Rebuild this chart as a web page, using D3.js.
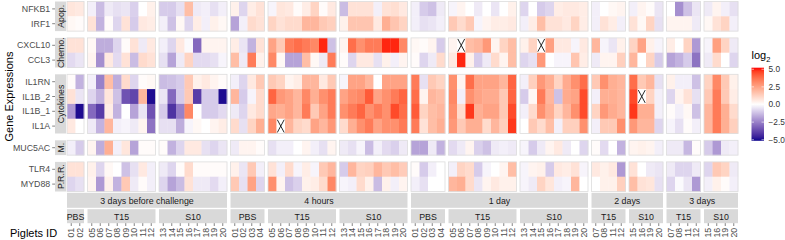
<!DOCTYPE html>
<html>
<head>
<meta charset="utf-8">
<script src="https://cdn.jsdelivr.net/npm/d3@7"></script>
<style>
body { margin: 0; background: #fff; }
svg { display: block; font-family: "Liberation Sans", Arial, sans-serif; }
</style>
</head>
<body>
<script>
// genes (rows) and their facet group
const genes = ["NFKB1", "IRF1", "CXCL10", "CCL3", "IL1RN", "IL1B_2", "IL1B_1", "IL1A", "MUC5AC", "TLR4", "MYD88"];
const geneGroups = ["Apop.", "Apop.", "Chemo.", "Chemo.", "Cytokines", "Cytokines", "Cytokines", "Cytokines", "M.", "P.R.R.", "P.R.R."];
const rowFacets = ["Apop.", "Chemo.", "Cytokines", "M.", "P.R.R."];

// time points and treatment groups
const times = ["3 days before challenge", "4 hours", "1 day", "2 days", "3 days"];
const treatmentsByTime = [["PBS", "T15", "S10"], ["PBS", "T15", "S10"], ["PBS", "T15", "S10"], ["T15", "S10"], ["T15", "S10"]];

// piglet ids per treatment, per time point
const idsBefore = [["01", "02"], ["05", "06", "07", "08", "09", "10", "11", "12"], ["13", "14", "15", "16", "17", "18", "19", "20"]];
const idsHours4 = [["01", "02", "03", "04"], ["05", "06", "07", "08", "09", "10", "11", "12"], ["13", "14", "15", "16", "17", "18", "19", "20"]];
const idsDay1 = [["01", "02", "03", "04"], ["05", "06", "07", "08", "09", "10", "11", "12"], ["13", "14", "15", "16", "17", "18", "19", "20"]];
const idsDays2 = [["07", "08", "11", "12"], ["15", "16", "19", "20"]];
const idsDays3 = [["07", "08", "11", "12"], ["15", "16", "19", "20"]];

// log2 values, one row per gene, columns in piglet order (null = missing, drawn with X)
const valBefore = [
  [0.7, 0.6, -0.3, -1.3, -0.4, -0.6, -0.5, -0.9, 0, 0.4, -1.0, -1.0, -0.6, 1.8, -0.4, -0.3, -0.6, -0.3],
  [0.2, 0.1, 0.8, -1.5, 0.1, -0.8, 0.8, -1.0, 0.6, 0.5, -0.3, -1.2, 0.2, -0.8, 0.5, -0.3, 0.4, 0.2],
  [0.8, 0.8, 0.2, -1.6, -1.6, -0.8, 0.1, 0.8, -0.4, 0.6, -0.3, -0.8, 0.6, -0.1, -3.0, 0.3, 0.3, 0.3],
  [-0.7, -0.5, 0.3, -2.2, 0.6, -0.7, 0.8, -1.3, 1.0, 0.8, -0.6, -1.8, -0.4, 1.2, -0.7, -0.7, -0.6, -0.2],
  [0.1, -1.5, -0.3, -2.5, 1.8, -1.6, 1.0, -0.8, 0.1, 0.2, -1.3, -1.2, -1.0, 1.5, 0.4, 0.6, 0.3, 0.1],
  [0.8, -0.5, -0.8, -1.5, 0.7, -1.2, -3.5, -3.8, 2.0, -5.0, -0.5, -3.0, -1.0, 1.5, -4.0, -1.0, -1.0, -5.0],
  [-2.0, -5.0, -3.0, -4.0, 0.5, -1.5, 0, -1.8, -0.5, -3.5, -1.0, -4.2, -2.5, 3.2, 0, -1.0, -1.0, -0.7],
  [0.6, 0, -0.4, -1.5, 2.0, -0.3, -0.2, -0.4, 0.3, -2.8, -0.6, -0.6, -1.6, -0.2, 0.2, 0, 0.3, 0.5],
  [-0.3, -1.0, 0.3, -1.6, 2.2, -0.3, 0.7, -1.8, 0.1, 0.1, 0.1, -1.5, -0.8, 0.6, 0.6, -0.6, -0.8, -0.5],
  [0.8, 0.8, 0.4, -0.8, 0.2, 0, -1.2, -0.6, 0.6, -0.3, -0.4, -0.8, 0.1, 1.0, 0.1, 0.1, 0.1, 0.1],
  [-0.8, -0.6, 0.3, -2.0, 0.4, -1.5, 1.5, -0.4, 0.1, -0.3, -0.8, -1.8, -1.3, 0.8, -0.4, -0.4, -0.7, -0.3]
];
const valHours4 = [
  [0.4, -0.8, 0.5, 0.8, -0.2, 0.7, 0.6, 0.1, 0.5, 1.2, 0.1, 0.6, -1.3, 0.8, 0.8, 0.8, -0.3, 0.8, 0.9, 0.6],
  [-1.8, -0.3, 1.0, 0.8, 1.2, 0.8, 1.0, 1.0, 2.0, 2.0, 1.5, 1.3, 0.4, 1.6, 1.6, 1.6, 0.6, 2.2, 1.6, 1.2],
  [0.5, -0.5, -1.5, 0.8, 2.5, 1.5, 3.5, 3.8, 3.5, 3.2, 5.0, -1.2, 0.3, 3.8, 3.0, 3.5, 3.5, 5.0, 5.0, 3.2],
  [1.8, -0.4, 3.5, 0.4, 3.2, 0.2, -1.8, -1.8, 1.8, 0.2, -0.4, 3.5, 0.1, -0.8, 0.6, 0.6, -0.6, 0.4, -0.3, 0.3],
  [-0.3, -0.8, 0.6, 1.5, 1.5, 1.2, 0.3, 0.5, 2.0, 2.0, 0.6, 1.5, -0.2, 2.5, 2.5, 2.0, 0, 2.5, 2.5, 2.5],
  [2.0, -1.0, -0.2, 1.0, 4.0, 2.8, 2.5, 2.0, 3.2, 2.2, 3.0, 3.5, 2.5, 3.0, 3.2, 4.2, 2.5, 3.0, 3.5, 4.0],
  [-0.4, -0.8, 0.6, 1.0, 2.4, 2.2, 2.5, 2.0, 3.5, 1.5, 2.5, 3.5, 3.0, 3.5, 4.0, 3.0, 3.5, 3.0, 4.5, 3.8],
  [1.0, -0.6, 1.2, 2.2, 3.2, null, 2.0, 1.2, 1.0, 2.5, 2.0, 2.8, 1.0, 2.2, 3.0, 3.5, 2.5, 3.0, 3.0, 3.5],
  [-0.4, 0.3, 0.3, 0.1, -0.6, -0.3, -0.3, 0, 0.3, -0.3, -0.6, 0.3, -0.4, -0.6, -0.2, -1.3, -0.3, -0.7, -0.9, -0.4],
  [0.4, -0.5, 1.5, -0.3, 0.8, -0.3, 1.0, -0.2, 0.5, -0.2, 1.5, 2.0, -1.0, 2.0, 1.2, 1.3, 2.0, 1.5, 1.8, 1.4],
  [1.5, -0.6, 2.5, -0.8, 3.0, 0.3, -1.2, -0.9, 0.4, 0.5, 1.0, 3.2, -0.2, -0.3, 1.0, 0.4, -1.3, 0.4, -0.3, 0.3]
];
const valDay1 = [
  [-0.3, -1.0, -1.2, -0.4, -0.2, 0.3, 0, -0.4, 0, -0.5, 0, 0.4, -0.8, 0, -1.0, -0.8, 0.5, 0.6, 0.6, 0.5],
  [-0.3, -0.6, -0.5, -0.3, 1.5, 1.0, 1.5, -0.2, 0.3, 0.5, 0.5, 0.6, -0.3, 0.5, 1.8, 0.8, 0.8, 0.6, 1.2, 0.5],
  [0.2, 0.1, 0.3, -1.0, 0.3, null, 1.8, 2.0, 2.8, 0.3, 1.2, 1.8, 0.4, 1.2, null, 2.6, 0.6, 0.6, -0.2, 0.6],
  [0.1, -0.8, -0.4, 1.0, 0.6, 5.0, 0.4, -1.0, -0.4, 1.0, 0.3, 1.8, -0.8, -0.6, 2.8, 0, -0.2, -0.2, 1.6, 0.5],
  [3.5, -0.6, 1.5, 1.2, 3.0, 0.3, 3.8, 2.5, 2.5, 2.5, 2.0, 4.0, -0.3, 1.3, 2.8, 2.2, 1.2, 2.3, 3.0, 3.8],
  [3.8, 0.3, 2.0, 1.8, 3.2, -0.3, 3.0, 2.5, 2.3, 2.3, 1.5, 4.0, -1.0, 0.2, 3.5, 2.0, -1.2, 2.3, 2.5, 4.5],
  [4.2, 1.2, 1.8, 2.0, 3.0, 1.0, 4.8, 2.2, 2.5, 2.5, 1.5, 4.5, -0.3, 1.0, 3.0, 2.2, 1.2, 2.0, 3.0, 4.5],
  [3.5, 0.8, 1.8, 2.2, 2.8, 1.5, 2.2, 2.2, 1.0, 2.0, 1.3, 4.8, 0, 1.5, 1.0, 1.8, -0.3, 1.3, 1.3, 3.0],
  [-1.8, -1.8, -0.4, -1.5, -0.7, -0.4, 0.3, -0.9, -1.2, -0.4, -0.3, -0.4, -0.2, -1.0, -0.4, 0.3, 0.6, -0.4, 0, -0.8],
  [0.1, -1.0, -0.3, 0, -0.3, 1.2, 1.0, -1.0, -0.2, 0, 0.3, 1.8, -0.2, 0.3, 0.4, -1.0, 0.6, 0.5, 0.8, -0.2],
  [-0.3, -0.6, 0, 0, 2.0, 2.2, 1.0, -0.5, 0.3, 0.6, 0.4, 0.4, -0.2, -0.4, 1.2, 0.7, -0.3, -0.2, 2.0, 0]
];
const valDays2 = [
  [-0.3, 0, 0.2, 0.3, -0.3, 0.3, 0.1, -0.5],
  [-0.3, 0.8, 0.5, -0.3, 0.8, 0.2, 1.2, -0.6],
  [2.0, -0.2, -0.5, 0.4, 1.2, 2.5, 0.4, -0.2],
  [-0.4, 0.3, 0.3, 1.3, 2.0, 0, 1.2, -1.0],
  [1.5, 3.0, 2.2, 2.0, 3.8, 1.5, 2.0, -0.6],
  [-0.3, 2.2, 2.2, 2.0, 4.5, null, 1.2, -0.3],
  [1.2, 2.8, 2.3, 2.0, 4.8, 2.2, 2.2, -0.3],
  [-0.3, 1.5, 1.5, 3.0, 2.8, 2.0, 2.0, -0.8],
  [0.1, -0.7, 0, -1.5, 0.3, 0.4, 0.3, -0.3],
  [0.6, 0.4, 0.6, -2.0, 0.8, 0, -0.4, -0.5],
  [0, 0.4, 0.4, 1.3, 1.8, 0.8, 0.7, -0.6]
];
const valDays3 = [
  [0, -2.2, -1.2, -0.5, -0.4, 0.3, -0.3, -0.6],
  [0.3, 0.3, 0.3, -0.4, 0.2, 0.8, 1.2, -0.3],
  [0.5, 0, 1.2, -2.0, -0.2, 2.6, 1.2, -0.4],
  [-1.8, -1.5, -1.0, -2.8, -0.4, 1.0, 0, -0.8],
  [0.4, -0.3, -0.3, -1.2, 1.2, 3.2, 1.5, 0.4],
  [-0.8, 0.3, 0.8, -0.6, 1.5, 3.5, 1.5, 0.5],
  [0.1, -0.3, 0.2, -1.2, 2.0, 3.5, 2.2, 1.0],
  [-0.2, -0.6, 0.1, -0.3, 2.0, 3.5, 2.2, 1.3],
  [-0.4, -0.4, -1.4, 0.1, -1.0, -2.0, -0.4, -0.3],
  [-0.4, -0.8, -0.8, -0.4, -0.8, 1.5, 1.2, -0.4],
  [-0.8, -0.1, -0.5, -2.0, -0.3, 0.4, 0.1, -0.3]
];
const legendTicks = [-5, -2.5, 0, 2.5, 5];

const idsByTime = [idsBefore, idsHours4, idsDay1, idsDays2, idsDays3];
const valsByTime = [valBefore, valHours4, valDay1, valDays2, valDays3];

const W = 785, H = 240;
const plotL = 67, plotR = 738, plotT = 1.5, plotB = 191.5;
const gapX = 3.5, gapY = 6.8;

const svg = d3.select("body").append("svg")
  .attr("width", W)
  .attr("height", H);

const color = d3.scaleLinear()
  .domain([-5.22, 0, 5.22])
  .range(["#00008b", "#ffffff", "#ff0000"])
  .interpolate(d3.interpolateLab)
  .clamp(true);

// horizontal layout: one panel per time x treatment
const nCols = d3.sum(idsByTime, t => d3.sum(t, g => g.length));
const nPanelsX = d3.sum(idsByTime, t => t.length);
const cellW = (plotR - plotL - gapX * (nPanelsX - 1)) / nCols;

const panelsX = [];
const timeSpans = [];
let cursor = plotL;
idsByTime.forEach((groups, ti) => {
  const start = cursor;
  let offset = 0;
  groups.forEach((ids, gi) => {
    const w = ids.length * cellW;
    panelsX.push({
      time: ti, label: treatmentsByTime[ti][gi], ids: ids, offset: offset,
      x: d3.scaleBand().domain(ids).range([cursor, cursor + w]),
      x0: cursor, x1: cursor + w
    });
    offset += ids.length;
    cursor += w + gapX;
  });
  timeSpans.push({ label: times[ti], x0: start, x1: cursor - gapX });
});

// vertical layout: one panel per gene group
const cellH = (plotB - plotT - gapY * (rowFacets.length - 1)) / genes.length;
const panelsY = [];
let ycur = plotT;
rowFacets.forEach(f => {
  const rows = genes.filter((g, i) => geneGroups[i] === f);
  const h = rows.length * cellH;
  panelsY.push({ label: f, rows: rows, y: d3.scaleBand().domain(rows).range([ycur, ycur + h]), y0: ycur, y1: ycur + h });
  ycur += h + gapY;
});

const cells = svg.append("g");
const marks = svg.append("g");
panelsX.forEach(px => {
  panelsY.forEach(py => {
    py.rows.forEach(gene => {
      const r = genes.indexOf(gene);
      px.ids.forEach((id, k) => {
        const v = valsByTime[px.time][r][px.offset + k];
        const x = px.x(id), y = py.y(gene);
        cells.append("rect")
          .attr("x", x).attr("y", y)
          .attr("width", px.x.bandwidth() + 0.3)
          .attr("height", py.y.bandwidth() + 0.3)
          .attr("fill", v == null ? "#ffffff" : color(v));
        if (v == null) {
          const bw = px.x.bandwidth(), bh = py.y.bandwidth();
          marks.append("path")
            .attr("d", `M${x + 0.8},${y + 1}L${x + bw - 0.8},${y + bh - 1}M${x + bw - 0.8},${y + 1}L${x + 0.8},${y + bh - 1}`)
            .attr("stroke", "#111").attr("stroke-width", 0.9).attr("fill", "none");
        }
      });
    });
    svg.append("rect")
      .attr("x", px.x0).attr("y", py.y0)
      .attr("width", px.x1 - px.x0).attr("height", py.y1 - py.y0)
      .attr("fill", "none").attr("stroke", "#dcdcdc").attr("stroke-width", 0.8);
  });
});

// left strips + y axis
const stripL0 = 55, stripL1 = 66;
panelsY.forEach(py => {
  svg.append("rect")
    .attr("x", stripL0).attr("y", py.y0)
    .attr("width", stripL1 - stripL0).attr("height", py.y1 - py.y0)
    .attr("fill", "#d9d9d9");
  svg.append("text")
    .attr("transform", `translate(${(stripL0 + stripL1) / 2 + 0.5},${(py.y0 + py.y1) / 2}) rotate(-90)`)
    .attr("text-anchor", "middle").attr("dominant-baseline", "central")
    .attr("font-size", 8.8).attr("fill", "#1a1a1a")
    .text(py.label);
  py.rows.forEach(g => {
    const yc = py.y(g) + py.y.bandwidth() / 2;
    svg.append("line")
      .attr("x1", stripL0 - 2.8).attr("x2", stripL0)
      .attr("y1", yc).attr("y2", yc)
      .attr("stroke", "#333").attr("stroke-width", 0.6);
    svg.append("text")
      .attr("x", stripL0 - 4.8).attr("y", yc)
      .attr("text-anchor", "end").attr("dominant-baseline", "central")
      .attr("font-size", 8.8).attr("fill", "#4d4d4d")
      .text(g);
  });
});

// bottom strips + x axis
const tStrip0 = 192.8, tStrip1 = 207.8, gStrip0 = 209.2, gStrip1 = 223.2;
timeSpans.forEach(ts => {
  svg.append("rect")
    .attr("x", ts.x0).attr("y", tStrip0)
    .attr("width", ts.x1 - ts.x0).attr("height", tStrip1 - tStrip0)
    .attr("fill", "#d9d9d9");
  svg.append("text")
    .attr("x", (ts.x0 + ts.x1) / 2).attr("y", (tStrip0 + tStrip1) / 2 + 0.5)
    .attr("text-anchor", "middle").attr("dominant-baseline", "central")
    .attr("font-size", 8.8).attr("fill", "#1a1a1a")
    .text(ts.label);
});
panelsX.forEach(px => {
  svg.append("rect")
    .attr("x", px.x0).attr("y", gStrip0)
    .attr("width", px.x1 - px.x0).attr("height", gStrip1 - gStrip0)
    .attr("fill", "#d9d9d9");
  svg.append("text")
    .attr("x", (px.x0 + px.x1) / 2).attr("y", (gStrip0 + gStrip1) / 2 + 0.5)
    .attr("text-anchor", "middle").attr("dominant-baseline", "central")
    .attr("font-size", 8.8).attr("fill", "#1a1a1a")
    .text(px.label);
  px.ids.forEach(id => {
    const xc = px.x(id) + px.x.bandwidth() / 2;
    svg.append("line")
      .attr("x1", xc).attr("x2", xc)
      .attr("y1", gStrip1).attr("y2", gStrip1 + 2.8)
      .attr("stroke", "#333").attr("stroke-width", 0.6);
    svg.append("text")
      .attr("transform", `translate(${xc},${gStrip1 + 4.6}) rotate(-90)`)
      .attr("text-anchor", "end").attr("dominant-baseline", "central")
      .attr("font-size", 8.8).attr("fill", "#4d4d4d")
      .text(id);
  });
});

// axis titles
svg.append("text")
  .attr("transform", `translate(9,${(plotT + plotB) / 2}) rotate(-90)`)
  .attr("text-anchor", "middle").attr("dominant-baseline", "central")
  .attr("font-size", 11).attr("fill", "#000")
  .text("Gene Expressions");
svg.append("text")
  .attr("x", 10).attr("y", 237)
  .attr("font-size", 11).attr("fill", "#000")
  .text("Piglets ID");

// legend
const legX = 751.5, legW = 12.5;
const legY = d3.scaleLinear().domain([-5.15, 5.22]).range([140.8, 67.7]);
const grad = svg.append("defs").append("linearGradient")
  .attr("id", "lg").attr("x1", 0).attr("x2", 0).attr("y1", 1).attr("y2", 0);
d3.range(0, 1.0001, 0.05).forEach(t => {
  const v = -5.15 + t * (5.22 + 5.15);
  grad.append("stop").attr("offset", t).attr("stop-color", color(v));
});
svg.append("rect")
  .attr("x", legX).attr("y", legY(5.22))
  .attr("width", legW).attr("height", legY(-5.15) - legY(5.22))
  .attr("fill", "url(#lg)");
legendTicks.forEach(t => {
  const y = legY(t);
  svg.append("line").attr("x1", legX).attr("x2", legX + 2.5).attr("y1", y).attr("y2", y)
    .attr("stroke", "#fff").attr("stroke-width", 0.6);
  svg.append("line").attr("x1", legX + legW - 2.5).attr("x2", legX + legW).attr("y1", y).attr("y2", y)
    .attr("stroke", "#fff").attr("stroke-width", 0.6);
  svg.append("text")
    .attr("x", legX + legW + 4.5).attr("y", y)
    .attr("dominant-baseline", "central")
    .attr("font-size", 8.3).attr("fill", "#333")
    .text(d3.format(".1f")(t));
});
const title = svg.append("text")
  .attr("x", legX).attr("y", 59)
  .attr("font-size", 11).attr("fill", "#000");
title.append("tspan").text("log");
title.append("tspan").attr("font-size", 7.5).attr("dy", 2.5).text("2");
</script>
</body>
</html>
